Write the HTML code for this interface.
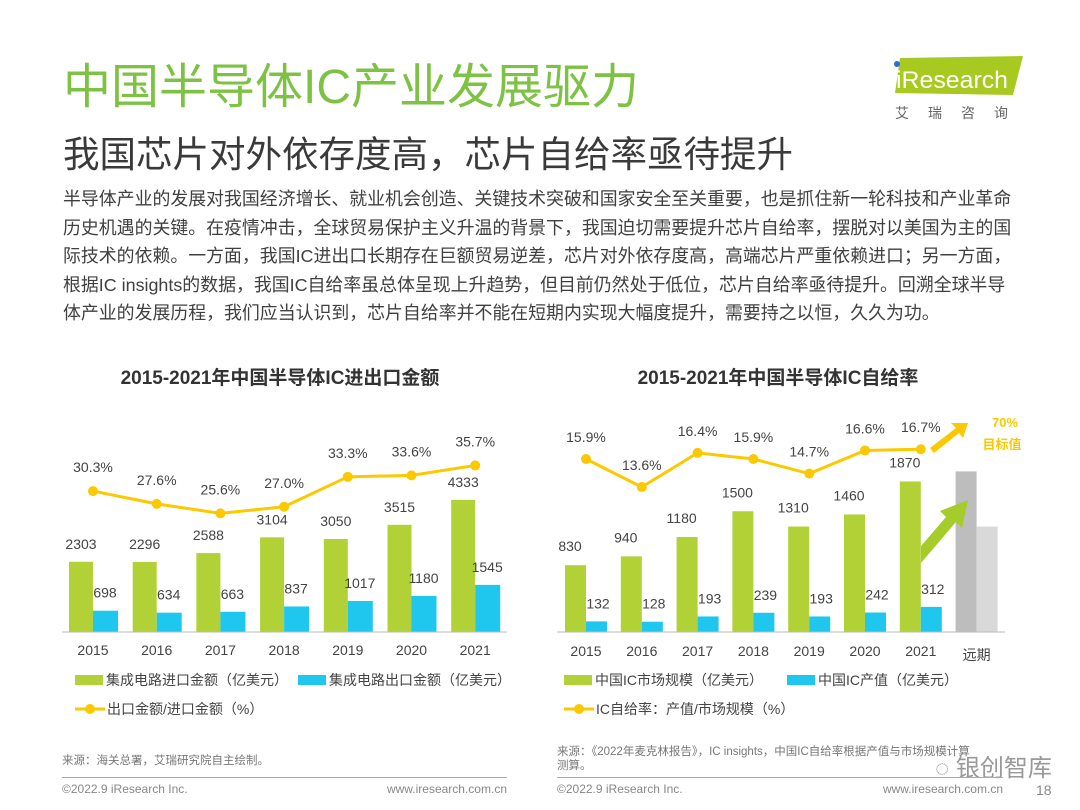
<!DOCTYPE html>
<html><head><meta charset="utf-8">
<style>
*{margin:0;padding:0;box-sizing:border-box}
body{width:1080px;height:810px;background:#fff;position:relative;overflow:hidden;font-family:"Liberation Sans","Noto Sans CJK SC",sans-serif;color:#333}
.abs{position:absolute;white-space:nowrap}
#title{left:63px;top:60px;font-size:48px;color:#7dc242;line-height:56px}
#sub{left:63px;top:131px;font-size:36.5px;color:#3a3a3a;line-height:48px}
#para{left:63px;top:185px;font-size:17.9px;line-height:28.6px;color:#404040}
.src{font-size:11.5px;color:#777}
.foot{font-size:12px;color:#888}
</style></head><body>
<div class="abs" id="title">中国半导体IC产业发展驱力</div>
<div class="abs" id="sub">我国芯片对外依存度高，芯片自给率亟待提升</div>
<div class="abs" id="para">半导体产业的发展对我国经济增长、就业机会创造、关键技术突破和国家安全至关重要，也是抓住新一轮科技和产业革命<br>历史机遇的关键。在疫情冲击，全球贸易保护主义升温的背景下，我国迫切需要提升芯片自给率，摆脱对以美国为主的国<br>际技术的依赖。一方面，我国IC进出口长期存在巨额贸易逆差，芯片对外依存度高，高端芯片严重依赖进口；另一方面，<br>根据IC insights的数据，我国IC自给率虽总体呈现上升趋势，但目前仍然处于低位，芯片自给率亟待提升。回溯全球半导<br>体产业的发展历程，我们应当认识到，芯片自给率并不能在短期内实现大幅度提升，需要持之以恒，久久为功。</div>
<svg class="abs" style="left:0;top:0" width="1080" height="140">
<polygon points="900,58 1023,56 1013,95 895,93" fill="#a8c920"/>
<circle cx="897" cy="64" r="3" fill="#2a6fd6"/>
<text x="896" y="88" font-size="24" fill="#fff" font-family="Liberation Sans" textLength="112" lengthAdjust="spacingAndGlyphs">iResearch</text>
<text x="895" y="118" font-size="14" fill="#666" letter-spacing="19" font-family="Noto Sans CJK SC">艾瑞咨询</text>
</svg>
<svg id="chart" class="abs" style="left:0;top:0" width="1080" height="810"></svg>
<div class="abs src" style="left:62px;top:752px">来源：海关总署，艾瑞研究院自主绘制。</div>
<div class="abs src" style="left:557px;top:745px;line-height:14px">来源：《2022年麦克林报告》，IC insights，中国IC自给率根据产值与市场规模计算<br>测算。</div>
<div class="abs" style="left:935px;top:748px;font-size:24px;color:#999">◌ 银创智库</div>
<div class="abs" style="left:62px;top:777px;width:445px;height:1px;background:#aaa"></div>
<div class="abs" style="left:557px;top:777px;width:446px;height:1px;background:#aaa"></div>
<div class="abs foot" style="left:62px;top:782px">©2022.9 iResearch Inc.</div>
<div class="abs foot" style="right:573px;top:782px">www.iresearch.com.cn</div>
<div class="abs foot" style="left:557px;top:782px">©2022.9 iResearch Inc.</div>
<div class="abs foot" style="right:77px;top:782px">www.iresearch.com.cn</div>
<div class="abs foot" style="left:1036px;top:782px;font-size:14px">18</div>
<script>
const yearsL=["2015","2016","2017","2018","2019","2020","2021"];
const importVals=[2303,2296,2588,3104,3050,3515,4333];
const exportVals=[698,634,663,837,1017,1180,1545];
const ratioL=[30.3,27.6,25.6,27.0,33.3,33.6,35.7];
const yearsR=["2015","2016","2017","2018","2019","2020","2021","远期"];
const marketVals=[830,940,1180,1500,1310,1460,1870];
const outputVals=[132,128,193,239,193,242,312];
const ratioR=[15.9,13.6,16.4,15.9,14.7,16.6,16.7];
const farVals=[1995,1310];
const svg=document.getElementById('chart');
const NS='http://www.w3.org/2000/svg';
function mk(t,a,txt){const e=document.createElementNS(NS,t);for(const k in a)e.setAttribute(k,a[k]);if(txt!==undefined)e.textContent=txt;svg.appendChild(e);return e;}
const GREEN='#b1d136',BLUE='#1fc7ef',YEL='#fcc800';
const base=632;
const xL=i=>93+i*63.7, hL=v=>v*0.0305, yLr=v=>635-v*4.75;
let e;
e=mk('text',{x:280,y:384,'font-size':19,'font-weight':'bold','text-anchor':'middle',fill:'#333'},'2015-2021年中国半导体IC进出口金额');


yearsL.forEach((y,i)=>{
 const cx=xL(i);
 e=mk('rect',{x:cx-24,y:base-hL(importVals[i]),width:24,height:hL(importVals[i]),fill:GREEN});
 
 
 e=mk('rect',{x:cx,y:base-hL(exportVals[i]),width:25,height:hL(exportVals[i]),fill:BLUE});
 
 
 e=mk('text',{x:cx-12,y:base-hL(importVals[i])-13,'font-size':14,'text-anchor':'middle',fill:'#444'},importVals[i]);
 
 
 e=mk('text',{x:cx+12,y:base-hL(exportVals[i])-13,'font-size':14,'text-anchor':'middle',fill:'#444'},exportVals[i]);
 
 
 e=mk('text',{x:cx,y:655,'font-size':14,'text-anchor':'middle',fill:'#444'},y);
 
 
});
e=mk('line',{x1:62,y1:base,x2:507,y2:base,stroke:'#bbb','stroke-width':1});


e=mk('polyline',{points:ratioL.map((v,i)=>xL(i)+','+yLr(v)).join(' '),fill:'none',stroke:YEL,'stroke-width':3});


ratioL.forEach((v,i)=>{
 e=mk('circle',{cx:xL(i),cy:yLr(v),r:5,fill:YEL});
 
 
 e=mk('text',{x:xL(i),y:yLr(v)-19,'font-size':14,'text-anchor':'middle',fill:'#444'},v.toFixed(1)+'%');
 
 
});
const xR=i=>586+i*55.8, hR=v=>v*0.0805, yRr=v=>459-(v-15.9)*12.2;
e=mk('text',{x:778,y:384,'font-size':19,'font-weight':'bold','text-anchor':'middle',fill:'#333'},'2015-2021年中国半导体IC自给率');


yearsR.forEach((y,i)=>{
 const cx=xR(i);
 if(i<7){
 e=mk('rect',{x:cx-21,y:base-hR(marketVals[i]),width:21,height:hR(marketVals[i]),fill:GREEN});
 
 
 e=mk('rect',{x:cx,y:base-hR(outputVals[i]),width:21,height:hR(outputVals[i]),fill:BLUE});
 
 
 e=mk('text',{x:cx-16,y:base-hR(marketVals[i])-14,'font-size':14,'text-anchor':'middle',fill:'#444'},marketVals[i]);
 
 
 e=mk('text',{x:cx+12,y:base-hR(outputVals[i])-13,'font-size':14,'text-anchor':'middle',fill:'#444'},outputVals[i]);
 
 
 } else {
 e=mk('rect',{x:cx-21,y:base-hR(farVals[0]),width:21,height:hR(farVals[0]),fill:'#bdbdbd'});
 
 
 e=mk('rect',{x:cx,y:base-hR(farVals[1]),width:21,height:hR(farVals[1]),fill:'#d9d9d9'});
 
 
 }
 e=mk('text',{x:cx,y:i<7?656:660,'font-size':14,'text-anchor':'middle',fill:'#444'},y);
 
 
});
e=mk('line',{x1:557,y1:base,x2:1005,y2:base,stroke:'#bbb','stroke-width':1});


e=mk('polyline',{points:ratioR.map((v,i)=>xR(i)+','+yRr(v)).join(' '),fill:'none',stroke:YEL,'stroke-width':3});


ratioR.forEach((v,i)=>{
 e=mk('circle',{cx:xR(i),cy:yRr(v),r:5,fill:YEL});
 
 
 e=mk('text',{x:xR(i),y:yRr(v)-17,'font-size':14,'text-anchor':'middle',fill:'#444'},v.toFixed(1)+'%');
 
 
});
e=mk('polygon',{points:'930,448 956,428 951,423 968,423 963,438 959,433 934,453',fill:YEL});


e=mk('text',{x:1005,y:427,'font-size':13,'font-weight':'bold','text-anchor':'middle',fill:YEL},'70%');


e=mk('text',{x:1002,y:449,'font-size':13,'font-weight':'bold','text-anchor':'middle',fill:YEL},'目标值');


e=mk('polygon',{points:'921,546 946,517 940,511 968,500 962,528 956,522 921,563',fill:'#a6cc2c'});


function legRect(x,y,c,t,n){
 e=mk('rect',{x:x,y:y-6,width:28,height:10,fill:c});
 
 
 e=mk('text',{x:x+31,y:y+4,'font-size':14,fill:'#444'},t);
 
 
}
function legLine(x,y,t,n){
 e=mk('line',{x1:x,y1:y,x2:x+30,y2:y,stroke:YEL,'stroke-width':3});
 
 
 e=mk('circle',{cx:x+15,cy:y,r:5,fill:YEL});
 
 
 e=mk('text',{x:x+32,y:y+5,'font-size':14,fill:'#444'},t);
 
 
}
legRect(75,681,GREEN,'集成电路进口金额（亿美元）','legend-import');
legRect(298,681,BLUE,'集成电路出口金额（亿美元）','legend-export');
legLine(75,709,'出口金额/进口金额（%）','legend-ratio-left');
legRect(564,681,GREEN,'中国IC市场规模（亿美元）','legend-market');
legRect(787,681,BLUE,'中国IC产值（亿美元）','legend-output');
legLine(564,709,'IC自给率：产值/市场规模（%）','legend-ratio-right');
</script>
</body></html>
